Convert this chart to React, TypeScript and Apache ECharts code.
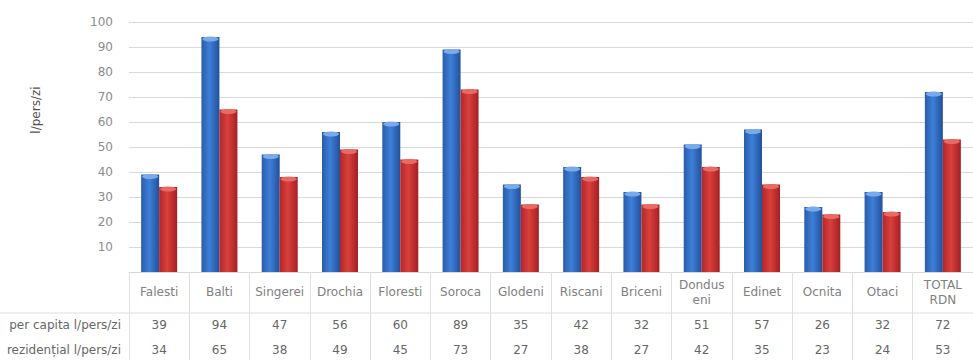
import React, { useEffect, useRef } from "react";
import * as echarts from "echarts";

const categories = [
  "Falesti", "Balti", "Singerei", "Drochia", "Floresti", "Soroca", "Glodeni",
  "Riscani", "Briceni", "Dondus\neni", "Edinet", "Ocnita", "Otaci", "TOTAL\nRDN",
];
const perCapita = [39, 94, 47, 56, 60, 89, 35, 42, 32, 51, 57, 26, 32, 72];
const rezidential = [34, 65, 38, 49, 45, 73, 27, 38, 27, 42, 35, 23, 24, 53];
const rowLabels = ["per capita l/pers/zi", "rezidențial l/pers/zi"];
const yAxisName = "l/pers/zi";

const FONT = "'DejaVu Sans', sans-serif";

export default function App() {
  const ref = useRef<HTMLDivElement>(null);
  useEffect(() => {
    document.body.style.margin = "0";
    if (!ref.current) return;
    const chart = echarts.init(ref.current, null, { renderer: "svg" });
    const blue = new echarts.graphic.LinearGradient(0, 0, 1, 0, [
      { offset: 0, color: "#2a5ca8" },
      { offset: 0.45, color: "#3d7fd8" },
      { offset: 1, color: "#23509a" },
    ]);
    const red = new echarts.graphic.LinearGradient(0, 0, 1, 0, [
      { offset: 0, color: "#b3262a" },
      { offset: 0.45, color: "#d8403b" },
      { offset: 1, color: "#a51f24" },
    ]);
    const rowAxis = (offset: number, values: number[], name: string) => ({
      type: "category",
      data: categories,
      position: "bottom",
      offset,
      axisLine: { show: false },
      axisTick: { show: false },
      splitLine: { show: false },
      axisLabel: {
        interval: 0,
        margin: 0,
        verticalAlign: "middle",
        color: "#666",
        fontSize: 12,
        fontFamily: FONT,
        formatter: (_v: string, i: number) => String(values[i]),
      },
      name,
      nameLocation: "start",
      nameGap: 8,
      nameTextStyle: {
        color: "#666",
        fontSize: 12,
        fontFamily: FONT,
        align: "right",
        verticalAlign: "middle",
      },
    });
    const cap = (data: number[], color: string) => ({
      type: "pictorialBar",
      data,
      symbol: "circle",
      symbolSize: [16, 5],
      symbolPosition: "end",
      symbolOffset: [0, "-10%"],
      barWidth: 18,
      barGap: "0%",
      itemStyle: { color },
      z: 3,
    });
    chart.setOption({
      animation: false,
      grid: { left: 129, top: 22, width: 853, bottom: 88, containLabel: false },
      xAxis: [
        {
          type: "category",
          data: categories,
          position: "bottom",
          axisLine: { show: true, lineStyle: { color: "#d6d6d6" } },
          axisTick: {
            show: true,
            interval: 0,
            length: 90,
            lineStyle: { color: "#dedede" },
          },
          axisLabel: {
            interval: 0,
            margin: 20,
            verticalAlign: "middle",
            color: "#808080",
            fontSize: 12,
            lineHeight: 15,
            fontFamily: FONT,
          },
        },
        rowAxis(53, perCapita, rowLabels[0]),
        rowAxis(78, rezidential, rowLabels[1]),
      ],
      yAxis: {
        type: "value",
        min: 0,
        max: 100,
        interval: 10,
        axisLine: { show: false },
        axisTick: { show: false },
        axisLabel: {
          color: "#8c8c8c",
          fontSize: 12,
          fontFamily: FONT,
          margin: 16,
          formatter: (v: number) => (v === 0 ? "" : String(v)),
        },
        splitLine: { lineStyle: { color: "#d9d9d9" } },
      },
      graphic: [
        {
          type: "line",
          shape: { x1: 0, y1: 313, x2: 973, y2: 313 },
          style: { stroke: "#dedede", lineWidth: 1 },
        },
        {
          type: "text",
          x: 36,
          y: 110,
          rotation: Math.PI / 2,
          style: {
            text: yAxisName,
            fill: "#555",
            fontSize: 12,
            fontFamily: FONT,
            align: "center",
            verticalAlign: "middle",
          },
        },
      ],
      series: [
        {
          type: "bar",
          data: perCapita,
          barWidth: 18,
          barGap: "0%",
          itemStyle: { color: blue },
        },
        {
          type: "bar",
          data: rezidential,
          barWidth: 18,
          barGap: "0%",
          itemStyle: { color: red },
        },
        cap(perCapita, "#78aaec"),
        cap(rezidential, "#e86a62"),
      ],
    });
    return () => chart.dispose();
  }, []);
  return <div ref={ref} style={{ width: 973, height: 360 }} />;
}
